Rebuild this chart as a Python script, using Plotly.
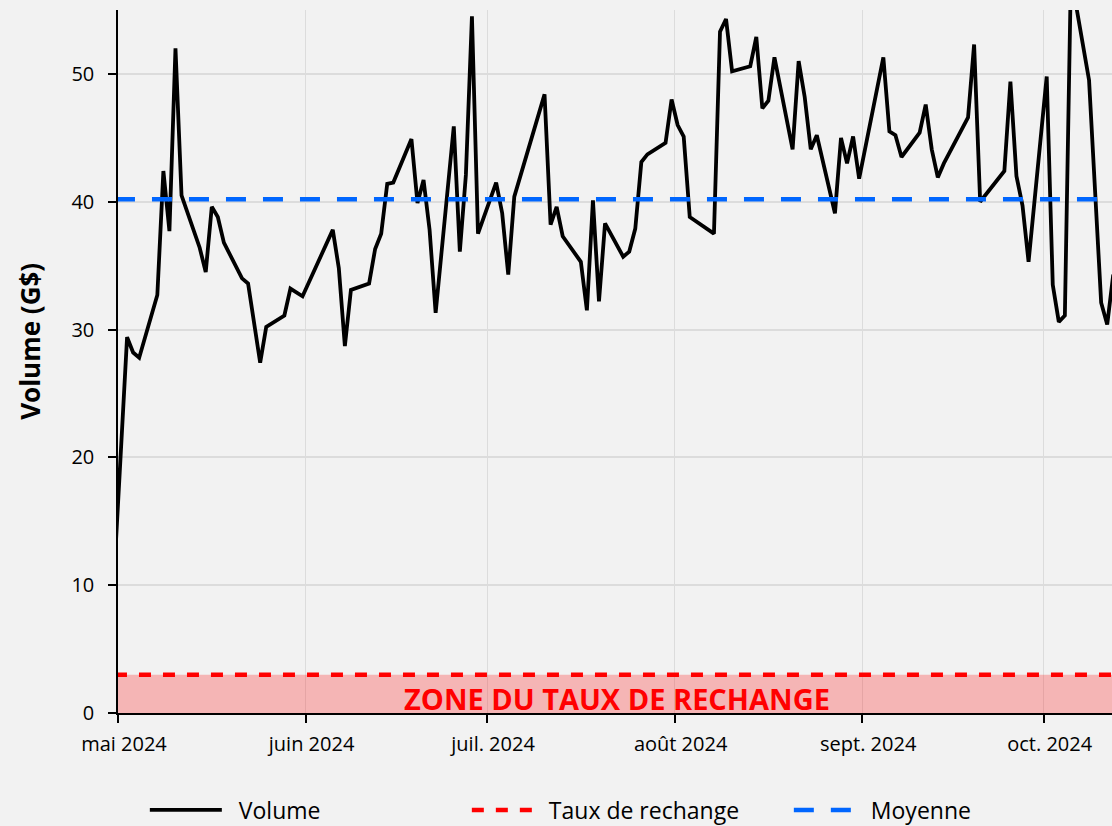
import pandas as pd
import plotly.graph_objects as go

# ---- data -------------------------------------------------------------------
DATES = [
    "2024-04-29", "2024-05-01", "2024-05-02", "2024-05-03", "2024-05-06", "2024-05-07",
    "2024-05-08", "2024-05-09", "2024-05-10", "2024-05-13", "2024-05-14", "2024-05-15",
    "2024-05-16", "2024-05-17", "2024-05-20", "2024-05-21", "2024-05-23", "2024-05-24",
    "2024-05-27", "2024-05-28", "2024-05-30", "2024-06-04", "2024-06-05", "2024-06-06",
    "2024-06-07", "2024-06-10", "2024-06-11", "2024-06-12", "2024-06-13", "2024-06-14",
    "2024-06-17", "2024-06-18", "2024-06-19", "2024-06-20", "2024-06-21", "2024-06-24",
    "2024-06-25", "2024-06-26", "2024-06-27", "2024-06-28", "2024-07-01", "2024-07-02",
    "2024-07-03", "2024-07-04", "2024-07-09", "2024-07-10", "2024-07-11", "2024-07-12",
    "2024-07-15", "2024-07-16", "2024-07-17", "2024-07-18", "2024-07-19", "2024-07-22",
    "2024-07-23", "2024-07-24", "2024-07-25", "2024-07-26", "2024-07-29", "2024-07-30",
    "2024-07-31", "2024-08-01", "2024-08-02", "2024-08-06", "2024-08-07", "2024-08-08",
    "2024-08-09", "2024-08-12", "2024-08-13", "2024-08-14", "2024-08-15", "2024-08-16",
    "2024-08-19", "2024-08-20", "2024-08-21", "2024-08-22", "2024-08-23", "2024-08-26",
    "2024-08-27", "2024-08-28", "2024-08-29", "2024-08-30", "2024-09-03", "2024-09-04",
    "2024-09-05", "2024-09-06", "2024-09-09", "2024-09-10", "2024-09-11", "2024-09-12",
    "2024-09-13", "2024-09-17", "2024-09-18", "2024-09-19", "2024-09-23", "2024-09-24",
    "2024-09-25", "2024-09-26", "2024-09-27", "2024-09-30", "2024-10-01", "2024-10-02",
    "2024-10-03", "2024-10-04", "2024-10-07", "2024-10-09", "2024-10-10", "2024-10-11",
]
VOLUME = [
    12.0, 29.4, 28.2, 27.8, 32.7, 42.4,
    37.7, 52.0, 40.5, 36.4, 34.5, 39.6,
    38.8, 36.8, 34.0, 33.6, 27.4, 30.2,
    31.1, 33.2, 32.6, 37.8, 34.8, 28.7,
    33.1, 33.6, 36.3, 37.5, 41.4, 41.5,
    44.9, 39.9, 41.7, 37.8, 31.3, 45.9,
    36.1, 42.1, 54.5, 37.5, 41.5, 39.1,
    34.3, 40.4, 48.4, 38.2, 39.6, 37.3,
    35.3, 31.5, 40.1, 32.2, 38.3, 35.7,
    36.1, 37.9, 43.1, 43.7, 44.6, 48.0,
    46.0, 45.1, 38.8, 37.5, 53.3, 54.3,
    50.2, 50.6, 52.9, 47.3, 47.9, 51.3,
    44.1, 51.0, 48.2, 44.1, 45.2, 39.1,
    45.0, 43.0, 45.1, 41.8, 51.3, 45.5,
    45.2, 43.5, 45.4, 47.6, 44.1, 41.9,
    43.0, 46.6, 52.3, 40.0, 42.4, 49.4,
    42.0, 39.7, 35.3, 49.8, 33.5, 30.6,
    31.1, 57.7, 49.5, 32.1, 30.4, 34.3,
]
TAUX_RECHANGE = 3.0
MOYENNE = 40.2

MONTH_TICKS = ["2024-05-01", "2024-06-01", "2024-07-01", "2024-08-01", "2024-09-01", "2024-10-01"]
MONTH_LABELS = ["mai 2024", "juin 2024", "juil. 2024", "août 2024", "sept. 2024", "oct. 2024"]
X_RANGE = ["2024-05-01", "2024-10-12 07:00"]
Y_TICKS = [0, 10, 20, 30, 40, 50]

# ---- figure -------------------------------------------------------------------
FONT = "Open Sans"
# points are drawn centred 1.5 days after their date, as in the reference
x = pd.to_datetime(DATES) + pd.Timedelta(hours=36)
x_span = [x.min(), x.max()]

fig = go.Figure()
fig.add_trace(go.Scatter(
    x=x, y=VOLUME, mode="lines", name="&nbsp;&nbsp;Volume",
    line=dict(color="black", width=3.8),
))
fig.add_trace(go.Scatter(
    x=x_span, y=[TAUX_RECHANGE, TAUX_RECHANGE], mode="lines", name="Taux de rechange",
    line=dict(color="#ff0000", width=4.5, dash="12px,12px"),
))
fig.add_trace(go.Scatter(
    x=x_span, y=[MOYENNE, MOYENNE], mode="lines", name="Moyenne",
    line=dict(color="#0066ff", width=4.5, dash="20px,17px"),
))

fig.add_shape(type="rect", xref="paper", x0=0, x1=1, yref="y", y0=0, y1=TAUX_RECHANGE,
              fillcolor="rgba(255,0,0,0.25)", line=dict(width=0), layer="above")

fig.add_annotation(x="2024-07-22 12:00", y=1.1, xref="x", yref="y",
                   text="<b>ZONE DU TAUX DE RECHANGE</b>", showarrow=False,
                   font=dict(family=FONT, size=29, color="#ff0000"), yanchor="middle")

# y-axis title (placed as an annotation to match the reference position)
fig.add_annotation(x=-0.0885, y=0.528, xref="paper", yref="paper",
                   text="<b>Volume (G$)</b>", textangle=-90, showarrow=False,
                   xanchor="center", yanchor="middle",
                   font=dict(family=FONT, size=26, color="black"))

fig.update_layout(
    width=1112, height=826,
    margin=dict(l=118, r=0, t=10, b=113, autoexpand=False),
    paper_bgcolor="#f2f2f2", plot_bgcolor="#f2f2f2",
    font=dict(family=FONT, size=20, color="black"),
    showlegend=True,
    legend=dict(orientation="h", xref="paper", x=0.027, xanchor="left",
                yref="container", y=0.0194, yanchor="middle",
                font=dict(size=23), itemwidth=72, entrywidth=235,
                bgcolor="rgba(0,0,0,0)"),
)
fig.update_xaxes(
    type="date", range=X_RANGE, tickvals=MONTH_TICKS, ticktext=MONTH_LABELS,
    showgrid=True, gridcolor="#dcdcdc", gridwidth=1,
    showline=True, linecolor="black", linewidth=2,
    ticks="outside", ticklen=8, tickwidth=2, tickcolor="black",
    tickfont=dict(size=20), ticklabelshift=6, ticklabelstandoff=4,
    zeroline=False, automargin=False,
)
fig.update_yaxes(
    range=[0, 55], tickvals=Y_TICKS,
    showgrid=True, gridcolor="#dcdcdc", gridwidth=1.5,
    showline=True, linecolor="black", linewidth=1.5,
    ticks="outside", ticklen=8, tickwidth=1.5, tickcolor="black",
    tickfont=dict(size=20), ticklabelstandoff=10, zeroline=False, automargin=False,
)

fig.write_html(
    "out.html",
    config={"displayModeBar": False},
    post_script="document.body.style.margin='0';document.body.style.overflow='hidden';",
)
